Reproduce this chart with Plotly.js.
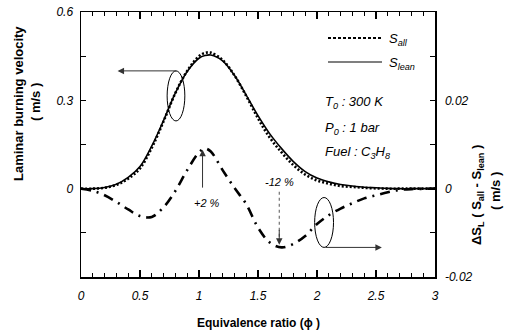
<!DOCTYPE html>
<html><head><meta charset="utf-8">
<script src="https://cdn.plot.ly/plotly-3.0.1.min.js"></script>
<style>html,body{margin:0;padding:0;background:#fff}#chart{width:512px;height:333px}</style>
</head><body><div id="chart"></div>
<script>
// Equivalence ratio
const phi = [0, 0.1, 0.2, 0.3, 0.4, 0.5, 0.6, 0.7, 0.8, 0.9, 1.0, 1.05, 1.1, 1.2, 1.3, 1.4, 1.5, 1.6, 1.7, 1.8, 1.9, 2.0, 2.1, 2.2, 2.3, 2.4, 2.5, 2.6, 2.7, 2.8, 3.0];
// Laminar burning velocity (m/s), lean model
const sLean = [0, 0, 0.004, 0.015, 0.038, 0.075, 0.145, 0.232, 0.325, 0.398, 0.443, 0.452, 0.454, 0.434, 0.385, 0.318, 0.248, 0.186, 0.136, 0.092, 0.058, 0.036, 0.023, 0.014, 0.009, 0.005, 0.003, 0.001, 0, 0, 0];
// Laminar burning velocity (m/s), all-species model
const sAll = [0, 0, 0.003, 0.013, 0.034, 0.069, 0.139, 0.229, 0.325, 0.400, 0.450, 0.461, 0.462, 0.437, 0.385, 0.315, 0.239, 0.173, 0.123, 0.080, 0.048, 0.028, 0.017, 0.009, 0.006, 0.003, 0.001, 0, 0, 0, 0];
// Difference S_all - S_lean (m/s)
const dS = [0, -0.0005, -0.0015, -0.003, -0.0047, -0.0062, -0.0064, -0.0042, -0.0005, 0.0042, 0.0082, 0.0091, 0.0084, 0.0042, 0.0002, -0.0035, -0.0088, -0.0122, -0.0133, -0.0125, -0.0107, -0.0080, -0.0060, -0.0045, -0.0033, -0.0022, -0.0015, -0.0008, -0.0003, -0.0001, 0];

const xTicks = [0, 0.5, 1, 1.5, 2, 2.5, 3];
const xTickText = ['0', '0.5', '1', '1.5', '2', '2.5', '3'];
const yTicks = [0, 0.3, 0.6];
const yTickText = ['0', '0.3', '0.6'];
const y2Ticks = [-0.02, 0, 0.02];
const y2TickText = ['-0.02', '0', '0.02'];

const tf = {family: 'Liberation Sans, Arial, sans-serif', size: 12, color: '#000', style: 'italic'};
const bf = {family: 'Liberation Sans, Arial, sans-serif', size: 12, color: '#000', weight: 'bold'};
const bf13 = {family: 'Liberation Sans, Arial, sans-serif', size: 13, color: '#000', weight: 'bold'};
const itf = {family: 'Liberation Sans, Arial, sans-serif', size: 13, color: '#000', style: 'italic'};

const traces = [
  {x: phi, y: sLean, mode: 'lines', line: {color: '#000', width: 1.6, shape: 'spline'}, name: 'S lean', showlegend: false},
  {x: phi, y: sAll, mode: 'lines', line: {color: '#000', width: 2.6, dash: '2px,2px', shape: 'spline'}, name: 'S all', showlegend: false},
  {x: phi, y: dS, yaxis: 'y2', mode: 'lines', line: {color: '#000', width: 2.6, dash: '10px,6px,2px,6px', shape: 'spline'}, name: 'dS', showlegend: false}
];

function px(X){return (X-81)/354;}
function py(Y){return (277-Y)/265;}
function txt(X, Y, t, font, extra){
  return Object.assign({xref: 'paper', yref: 'paper', x: px(X), y: py(Y), text: t, showarrow: false, font: font, xanchor: 'center', yanchor: 'middle'}, extra || {});
}

const layout = {
  width: 512, height: 333,
  margin: {l: 81, r: 77, t: 12, b: 56},
  paper_bgcolor: '#fff', plot_bgcolor: '#fff',
  showlegend: false,
  xaxis: {range: [0, 3], tickvals: xTicks, ticktext: xTickText, ticks: 'inside', ticklen: 7, tickwidth: 1.3, tickcolor: '#000',
    showline: true, linecolor: '#000', linewidth: 1.5, mirror: 'ticks', showgrid: false, zeroline: false, tickfont: tf, ticklabelstandoff: 7,
    minor: {dtick: 0.1, tick0: 0, ticks: 'inside', ticklen: 4, tickwidth: 1, tickcolor: '#000', showgrid: false}},
  yaxis: {range: [-0.3, 0.6], tickvals: yTicks, ticktext: yTickText, ticks: 'inside', ticklen: 5, tickwidth: 1.3, tickcolor: '#000',
    showline: true, linecolor: '#000', linewidth: 1.5, showgrid: false, zeroline: false, tickfont: tf, ticklabelstandoff: 4,
    minor: {tickvals: [-0.15, 0.15, 0.45], ticks: 'inside', ticklen: 5, tickwidth: 1, tickcolor: '#000', showgrid: false}},
  yaxis2: {range: [-0.02, 0.04], overlaying: 'y', side: 'right', tickvals: y2Ticks, ticktext: y2TickText, ticks: 'inside', ticklen: 5, tickwidth: 1.3, tickcolor: '#000',
    showline: true, linecolor: '#000', linewidth: 1.5, showgrid: false, zeroline: false, tickfont: tf, ticklabelstandoff: 6,
    minor: {tickvals: [-0.01, 0.01, 0.03], ticks: 'inside', ticklen: 5, tickwidth: 1, tickcolor: '#000', showgrid: false}},
  shapes: [
    {type: 'circle', xref: 'x', yref: 'y', x0: 0.73, x1: 0.88, y0: 0.23, y1: 0.40, line: {color: '#000', width: 1}},
    {type: 'circle', xref: 'x', yref: 'y2', x0: 1.98, x1: 2.14, y0: -0.0133, y1: -0.002, line: {color: '#000', width: 1}},
    {type: 'line', xref: 'paper', yref: 'paper', x0: px(328), x1: px(382), y0: py(38), y1: py(38), line: {color: '#000', width: 2, dash: '3px,2px'}},
    {type: 'line', xref: 'paper', yref: 'paper', x0: px(328), x1: px(382), y0: py(62), y1: py(62), line: {color: '#000', width: 1.2}},
    {type: 'line', xref: 'x', yref: 'y2', x0: 1.68, x1: 1.68, y0: -0.0007, y1: -0.011, line: {color: '#555', width: 1, dash: 'dot'}}
  ],
  annotations: [
    {xref: 'x', yref: 'y', x: 0.31, y: 0.40, ax: 0.82, ay: 0.40, axref: 'x', ayref: 'y', showarrow: true, arrowhead: 2, arrowsize: 1.3, arrowwidth: 1, arrowcolor: '#333', text: ''},
    {xref: 'x', yref: 'y2', x: 2.55, y: -0.0133, ax: 2.06, ay: -0.0133, axref: 'x', ayref: 'y2', showarrow: true, arrowhead: 2, arrowsize: 1.3, arrowwidth: 1, arrowcolor: '#333', text: ''},
    {xref: 'x', yref: 'y2', x: 1.03, y: 0.0088, ax: 1.03, ay: -0.0001, axref: 'x', ayref: 'y2', showarrow: true, arrowhead: 2, arrowsize: 1.3, arrowwidth: 1, arrowcolor: '#333', text: ''},
    txt(207, 203, '+2 %', {family: 'Liberation Sans, Arial, sans-serif', size: 11, color: '#000', style: 'italic'}),
    {xref: 'x', yref: 'y2', x: 1.68, y: -0.0127, ax: 1.68, ay: -0.009, axref: 'x', ayref: 'y2', showarrow: true, arrowhead: 2, arrowsize: 1.3, arrowwidth: 1, arrowcolor: '#333', text: ''},
    txt(279, 182, '-12 %', {family: 'Liberation Sans, Arial, sans-serif', size: 11, color: '#000', style: 'italic'}),
    txt(387, 40, 'S<sub>all</sub>', itf, {xanchor: 'left'}),
    txt(387, 64, 'S<sub>lean</sub>', itf, {xanchor: 'left'}),
    txt(323, 102, 'T<sub>0</sub> : 300 K', itf, {xanchor: 'left'}),
    txt(323, 128, 'P<sub>0</sub> : 1 bar', itf, {xanchor: 'left'}),
    txt(323, 152, 'Fuel : C<sub>3</sub>H<sub>8</sub>', itf, {xanchor: 'left'}),
    txt(258, 323, 'Equivalence ratio (ϕ )', bf),
    txt(18, 104, 'Laminar burning velocity', bf13, {textangle: -90}),
    txt(35, 102, '( m/s )', bf13, {textangle: -90}),
    txt(477, 195, 'ΔS<sub>L</sub> ( S<sub>all</sub> - S<sub>lean</sub> )', bf13, {textangle: -90}),
    txt(495, 191, '( m/s )', bf13, {textangle: -90})
  ]
};

Plotly.newPlot('chart', traces, layout, {displayModeBar: false, staticPlot: true});
</script>
</body></html>
